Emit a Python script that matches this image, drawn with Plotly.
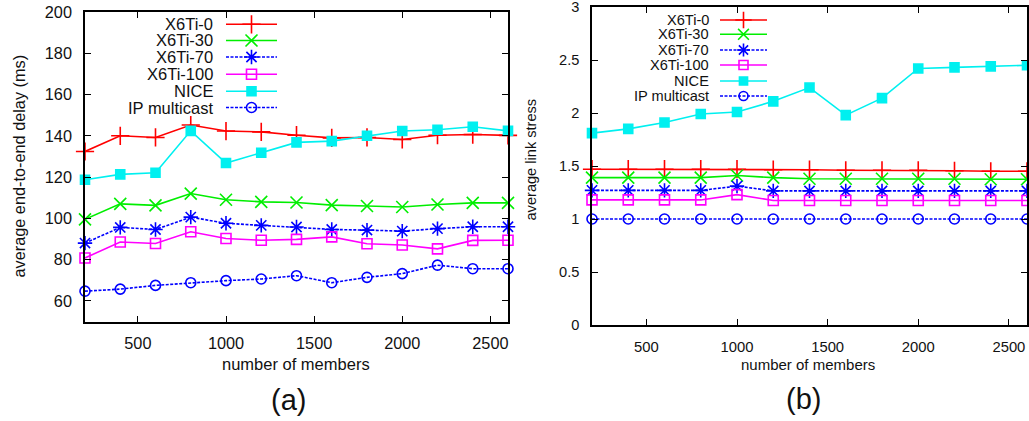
import plotly.graph_objects as go

# ---------------- data ----------------
members = [200, 400, 600, 800, 1000, 1200, 1400, 1600, 1800, 2000, 2200, 2400, 2600]
series_names = ["X6Ti-0", "X6Ti-30", "X6Ti-70", "X6Ti-100", "NICE", "IP multicast"]

delay_x6ti_0 = [132.4, 140.0, 139.2, 145.2, 142.3, 141.9, 140.3, 139.0, 139.2, 138.2, 140.3, 140.6, 140.2]
delay_x6ti_30 = [99.5, 107.0, 106.3, 112.0, 109.0, 108.0, 107.7, 106.4, 106.0, 105.5, 106.7, 107.5, 107.5]
delay_x6ti_70 = [88.0, 95.6, 94.6, 100.6, 97.6, 96.6, 95.8, 94.6, 94.3, 93.8, 95.0, 95.9, 95.9]
delay_x6ti_100 = [80.8, 88.5, 87.8, 93.5, 90.2, 89.4, 89.8, 91.0, 87.7, 87.1, 85.2, 89.3, 89.4]
delay_nice = [118.7, 121.3, 122.1, 142.4, 126.8, 131.8, 136.8, 137.4, 140.0, 142.3, 142.9, 144.4, 142.4]
delay_ipm = [64.7, 65.7, 67.5, 68.8, 69.8, 70.6, 72.2, 68.8, 71.4, 73.2, 77.3, 75.6, 75.6]

stress_x6ti_0 = [1.47, 1.47, 1.47, 1.47, 1.47, 1.465, 1.465, 1.46, 1.46, 1.46, 1.455, 1.45, 1.45]
stress_x6ti_30 = [1.39, 1.39, 1.39, 1.39, 1.41, 1.39, 1.38, 1.38, 1.38, 1.38, 1.38, 1.375, 1.375]
stress_x6ti_70 = [1.27, 1.27, 1.27, 1.27, 1.31, 1.265, 1.265, 1.265, 1.265, 1.265, 1.265, 1.265, 1.265]
stress_x6ti_100 = [1.18, 1.18, 1.18, 1.18, 1.23, 1.175, 1.175, 1.175, 1.175, 1.175, 1.175, 1.175, 1.175]
stress_nice = [1.81, 1.85, 1.91, 1.99, 2.01, 2.11, 2.24, 1.98, 2.14, 2.42, 2.43, 2.44, 2.45]
stress_ipm = [1.0] * 13

delay_series = [delay_x6ti_0, delay_x6ti_30, delay_x6ti_70, delay_x6ti_100, delay_nice, delay_ipm]
stress_series = [stress_x6ti_0, stress_x6ti_30, stress_x6ti_70, stress_x6ti_100, stress_nice, stress_ipm]

x_ticks = [500, 1000, 1500, 2000, 2500]
delay_ticks = [60, 80, 100, 120, 140, 160, 180, 200]
stress_ticks = [0, 0.5, 1, 1.5, 2, 2.5, 3]

# ---------------- styles ----------------
styles = [
    dict(color="#ff0000", dash="solid", symbol="cross-thin", size=13),
    dict(color="#00ee00", dash="solid", symbol="x-thin", size=12),
    dict(color="#0000ff", dash="3px,1.5px", symbol="asterisk", size=12),
    dict(color="#ff00ff", dash="solid", symbol="square-open", size=10),
    dict(color="#00f0f0", dash="solid", symbol="square", size=9),
    dict(color="#0000ff", dash="3px,1.5px", symbol="circle-open", size=10),
]

W, H = 1029, 421
FONT = "Liberation Sans, Arial, sans-serif"
TXT = "#111"

fig = go.Figure()

def add_series(ys, xa, ya):
    for name, y, st in zip(series_names, ys, styles):
        fig.add_trace(go.Scatter(
            x=members, y=y, name=name, mode="lines+markers",
            xaxis=xa, yaxis=ya, showlegend=False, cliponaxis=False,
            line=dict(color=st["color"], width=1.6, dash=st["dash"]),
            marker=dict(symbol=st["symbol"], size=st["size"], color=st["color"],
                        line=dict(color=st["color"], width=1.6)),
        ))

add_series(delay_series, "x", "y")
add_series(stress_series, "x2", "y2")

# ---------------- custom gnuplot-style legends (pixel-space overlay axis) ----------------
def add_legend(text_right, line_x0, line_x1, rows_y, fsize, msize_scale):
    for name, st, yy in zip(series_names, styles, rows_y):
        fig.add_trace(go.Scatter(
            x=[line_x0, line_x1], y=[yy, yy], mode="lines", xaxis="x3", yaxis="y3",
            showlegend=False, hoverinfo="skip",
            line=dict(color=st["color"], width=1.6, dash=st["dash"])))
        fig.add_trace(go.Scatter(
            x=[(line_x0 + line_x1) / 2], y=[yy], mode="markers", xaxis="x3", yaxis="y3",
            showlegend=False, hoverinfo="skip",
            marker=dict(symbol=st["symbol"], size=st["size"] * msize_scale, color=st["color"],
                        line=dict(color=st["color"], width=1.6))))
        fig.add_annotation(x=text_right / W, y=1 - yy / H, xref="paper", yref="paper",
                           text=name, showarrow=False, xanchor="right", yanchor="middle",
                           font=dict(family=FONT, size=fsize, color=TXT))

left_rows = [24.3, 40.5, 57, 74.3, 91.3, 107.5]
right_rows = [20, 34.3, 50, 65, 81, 96]
add_legend(215, 226, 277, left_rows, 16.5, 1.0)
add_legend(710.7, 720, 767, right_rows, 14.6, 0.9)

def axis_style(fsize):
    return dict(
        showline=True, mirror="allticks", linecolor="black", linewidth=1.5,
        ticks="inside", ticklen=6, tickcolor="black", tickwidth=1,
        showgrid=False, zeroline=False, automargin=False,
        ticklabeloverflow="allow",
        tickfont=dict(family=FONT, size=fsize, color=TXT),
    )

fig.update_layout(
    width=W, height=H, autosize=False,
    margin=dict(l=0, r=0, t=0, b=0, pad=0),
    paper_bgcolor="white", plot_bgcolor="rgba(0,0,0,0)",
    font=dict(family=FONT, color="black"),
    showlegend=False,
    xaxis=dict(domain=[85 / W, 508 / W], range=[200, 2600], tickvals=x_ticks,
               anchor="y", ticklabelstandoff=6, **axis_style(16.3)),
    yaxis=dict(domain=[1 - 321.5 / H, 1 - 12 / H], range=[50, 200], tickvals=delay_ticks,
               anchor="x", ticklabelstandoff=8, **axis_style(16.3)),
    xaxis2=dict(domain=[592 / W, 1027 / W], range=[200, 2600], tickvals=x_ticks,
                anchor="y2", ticklabelstandoff=7, **axis_style(14.8)),
    yaxis2=dict(domain=[1 - 325 / H, 1 - 7 / H], range=[0, 3], tickvals=stress_ticks,
                anchor="x2", ticklabelstandoff=8, **axis_style(14.6)),
    xaxis3=dict(domain=[0, 1], range=[0, W], visible=False, anchor="y3", fixedrange=True),
    yaxis3=dict(domain=[0, 1], range=[H, 0], visible=False, anchor="x3", fixedrange=True),
)

ann = [
    dict(x=296 / W, y=1 - 364 / H, text="number of members", size=16.5, angle=0),
    dict(x=808 / W, y=1 - 364 / H, text="number of members", size=15, angle=0),
    dict(x=288 / W, y=1 - 400 / H, text="(a)", size=29, angle=0),
    dict(x=803 / W, y=1 - 399 / H, text="(b)", size=29, angle=0),
    dict(x=18 / W, y=1 - 166.5 / H, text="average end-to-end delay (ms)", size=16.3, angle=-90),
    dict(x=530.5 / W, y=1 - 160 / H, text="average link stress", size=14.6, angle=-90),
]
for a in ann:
    fig.add_annotation(x=a["x"], y=a["y"], xref="paper", yref="paper", text=a["text"],
                       showarrow=False, xanchor="center", yanchor="middle", textangle=a["angle"],
                       font=dict(family=FONT, size=a["size"], color=TXT))

fig.write_html(
    "out.html",
    config={"displayModeBar": False},
    post_script="document.body.style.margin='0';document.body.style.overflow='hidden';",
)
